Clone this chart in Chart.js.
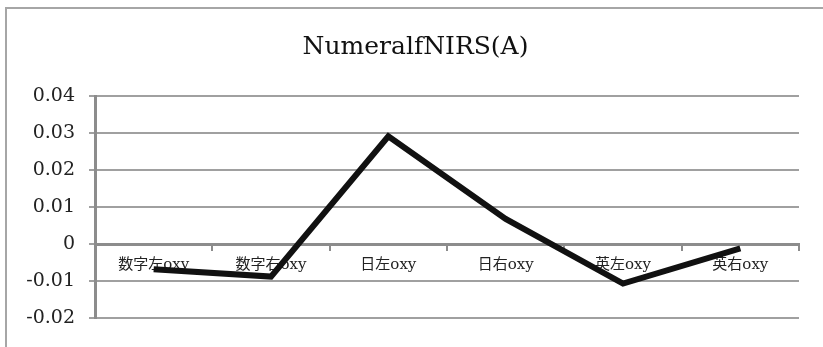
<!DOCTYPE html>
<html>
<head>
<meta charset="utf-8">
<script src="https://cdn.jsdelivr.net/npm/chart.js@4/dist/chart.umd.min.js"></script>
<style>
  html, body { margin: 0; padding: 0; background: #fff; overflow: hidden; }
  #frame { position: absolute; left: 5px; top: 7px; width: 900px; height: 400px; border: 2px solid #a6a6a6; }
  #wrap { position: absolute; left: 0; top: 0; width: 823px; height: 347px; }
</style>
</head>
<body>
<div id="frame"></div>
<div id="wrap"><canvas id="chart" width="823" height="347"></canvas></div>
<script>
// Chart data
const categories = ['数字左oxy', '数字右oxy', '日左oxy', '日右oxy', '英左oxy', '英右oxy'];
const oxyValues = [-0.0068, -0.0088, 0.0291, 0.0068, -0.0107, -0.0012];
const yTicks = [0.04, 0.03, 0.02, 0.01, 0, -0.01, -0.02];

const serif = '"DejaVu Serif", "Noto Sans CJK JP", serif';

let ctx = document.getElementById('chart').getContext('2d');
let oxyChart = new Chart(ctx, {
    type: 'line',
    data: {
        labels: categories,
        datasets: [{
            label: 'oxy',
            data: oxyValues,
            borderColor: '#111111',
            borderWidth: 6,
            pointRadius: 0,
            tension: 0,
            fill: false
        }]
    },
    options: {
        responsive: false,
        animation: false,
        layout: {
            padding: { left: 16, right: 8, top: 0, bottom: 29 }
        },
        plugins: {
            legend: { display: false },
            tooltip: { enabled: false },
            title: {
                display: true,
                text: 'NumeralfNIRS(A)',
                color: '#111111',
                font: { family: serif, size: 25, weight: 'normal' },
                padding: { top: 32, bottom: 34 }
            }
        },
        scales: {
            x: {
                position: { y: 0 },
                offset: true,
                grid: {
                    offset: true,
                    drawOnChartArea: false,
                    drawTicks: true,
                    tickLength: 5,
                    color: '#8c8c8c',
                    lineWidth: 2
                },
                border: { color: '#8c8c8c', width: 3 },
                ticks: {
                    color: '#222222',
                    font: { family: serif, size: 15 },
                    padding: 7,
                    maxRotation: 0,
                    autoSkip: false
                }
            },
            y: {
                min: -0.02,
                max: 0.04,
                afterBuildTicks: function (scale) {
                    scale.ticks = yTicks.map(v => ({ value: v }));
                },
                afterFit: function (scale) {
                    scale.width = 79;
                },
                grid: {
                    color: '#a0a0a0',
                    lineWidth: 2,
                    tickLength: 6
                },
                border: { color: '#8c8c8c', width: 3 },
                ticks: {
                    color: '#222222',
                    font: { family: serif, size: 19 },
                    padding: 14,
                    callback: function (value) {
                        return String(parseFloat(value.toFixed(2)));
                    }
                }
            },
            // empty right-hand axis, only reserves the margin right of the plot
            yRight: {
                position: 'right',
                min: -0.02,
                max: 0.04,
                grid: { display: false },
                border: { display: false },
                ticks: { display: false },
                afterFit: function (scale) {
                    scale.width = 16;
                }
            }
        }
    }
});
</script>
</body>
</html>
